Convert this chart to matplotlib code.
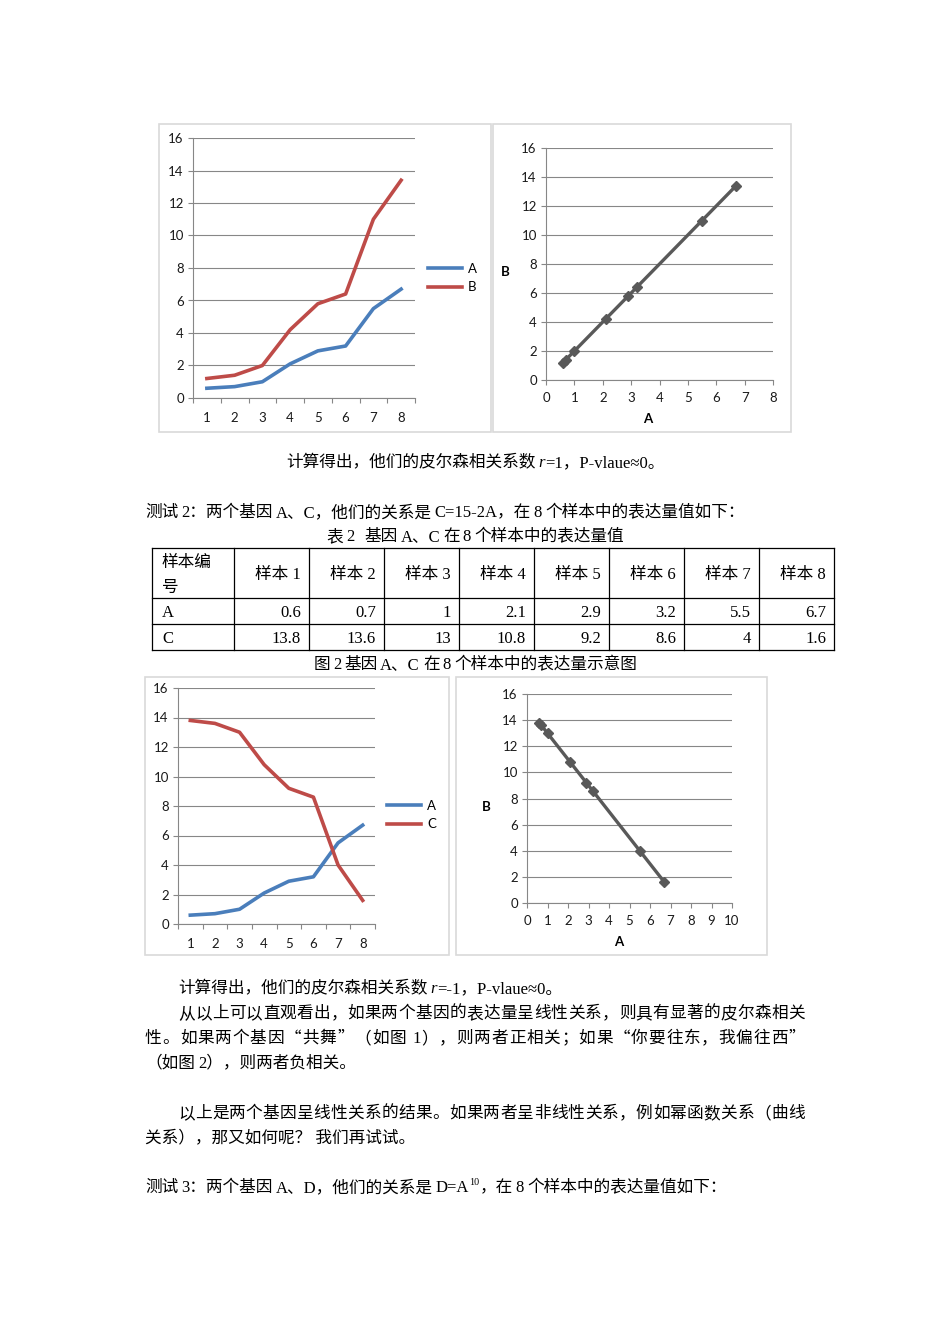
import matplotlib as mpl
mpl.use('Agg')
import matplotlib.pyplot as plt
from matplotlib.patches import Rectangle

W, H = 950, 1344

# data
samples = [1, 2, 3, 4, 5, 6, 7, 8]
geneA = [0.6, 0.7, 1, 2.1, 2.9, 3.2, 5.5, 6.7]
geneB = [1.2, 1.4, 2, 4.2, 5.8, 6.4, 11, 13.4]
geneC = [13.8, 13.6, 13, 10.8, 9.2, 8.6, 4, 1.6]
headers = ['样本编\n号', '样本 1', '样本 2', '样本 3', '样本 4',
           '样本 5', '样本 6', '样本 7', '样本 8']
yticks = [0, 2, 4, 6, 8, 10, 12, 14, 16]

BLUE = '#4A7EBB'
RED = '#BE4B48'
DARK = '#595959'
GRID = '#878787'
BORDER = '#D9D9D9'
BODY = ['Liberation Serif', 'Noto Sans CJK SC', 'DejaVu Serif']
CJK = ['Noto Sans CJK SC', 'DejaVu Sans']
CHART = ['Lato', 'DejaVu Sans']
FS = 12

fig = plt.figure(figsize=(W / 100, H / 100), dpi=100)
page = fig.add_axes([0, 0, 1, 1])
page.set_xlim(0, W)
page.set_ylim(H, 0)
page.axis('off')
renderer = fig.canvas.get_renderer()


def axes_px(x0, y0, x1, y1):
    return fig.add_axes([x0 / W, 1 - y1 / H, (x1 - x0) / W, (y1 - y0) / H])


def box(x0, y0, x1, y1):
    page.add_patch(Rectangle((x0, y0), x1 - x0, y1 - y0, fill=False,
                             edgecolor=BORDER, lw=1.2))


def style_axes(ax):
    ax.patch.set_alpha(0)
    ax.set_ylim(0, 16)
    ax.set_yticks(yticks)
    ax.yaxis.grid(True, color=GRID, lw=0.8)
    ax.set_axisbelow(True)
    for s in ['top', 'right']:
        ax.spines[s].set_visible(False)
    for s in ['left', 'bottom']:
        ax.spines[s].set_color(GRID)
        ax.spines[s].set_linewidth(0.8)
    ax.tick_params(axis='y', length=3.6, width=0.8, color=GRID, pad=3,
                   labelsize=9.5, labelcolor='#1a1a1a')
    for lab in ax.get_xticklabels() + ax.get_yticklabels():
        lab.set_family(CHART)


def line_chart(plot, series, names, colors, legxy):
    ax = axes_px(*plot)
    for ys, name, c in zip(series, names, colors):
        ax.plot(samples, ys, color=c, lw=2.6, label=name)
    ax.set_xlim(0.5, 8.5)
    ax.set_xticks(samples)
    ax.set_xticks([s - 0.5 for s in samples] + [8.5], minor=True)
    ax.tick_params(axis='x', which='major', length=0, pad=10,
                   labelsize=9.5, labelcolor='#1a1a1a')
    ax.tick_params(axis='x', which='minor', length=3.6, width=0.8, color=GRID)
    style_axes(ax)
    ax.legend(loc='center left', bbox_to_anchor=(legxy[0] / W, 1 - legxy[1] / H),
              bbox_transform=fig.transFigure, frameon=False, borderpad=0,
              borderaxespad=0, handlelength=2.6, handletextpad=0.45,
              labelspacing=0.5, prop={'family': CHART, 'size': 9.5})
    return ax


def scatter_chart(plot, xs, ys, xmax, blab, alab):
    ax = axes_px(*plot)
    ax.plot(xs, ys, color=DARK, lw=2.4, marker='D', ms=5)
    ax.set_xlim(0, xmax)
    ax.set_xticks(range(0, xmax + 1))
    ax.tick_params(axis='x', length=3.6, width=0.8, color=GRID, pad=5,
                   labelsize=9.5, labelcolor='#1a1a1a')
    style_axes(ax)
    page.text(blab[0], blab[1], 'B', family=CHART, fontweight='bold',
              fontsize=9.5, ha='center', va='center')
    page.text(alab[0], alab[1], 'A', family=CHART, fontweight='bold',
              fontsize=9.5, ha='center', va='center')
    return ax


def rich(x, y, parts, ha='left'):
    # parts: strings (normal), ('i', s) italic, ('sup', s) superscript,
    # numbers = gap px
    arts = []
    for p in parts:
        if isinstance(p, (int, float)):
            x += p
            continue
        if isinstance(p, tuple):
            kind, s = p
        else:
            kind, s = 'n', p
        kw = dict(fontsize=FS, family=BODY, va='baseline', ha='left')
        yy = y
        if kind == 'i':
            kw['style'] = 'italic'
        elif kind == 'sup':
            kw['fontsize'] = FS * 0.6
            yy = y - 7
        t = page.text(x, yy, s, **kw)
        x += t.get_window_extent(renderer).width
        arts.append(t)
    if ha == 'center':
        shift = (x - arts[0].get_position()[0]) / 2
        for t in arts:
            px, py = t.get_position()
            t.set_position((px - shift, py))
    return arts


def justified(x0, x1, y, s):
    # one character per text object, spread to fill x0..x1
    arts, widths = [], []
    for ch in s:
        if ch == ' ':
            arts.append(None)
            widths.append(4)
            continue
        fam = CJK if ch in '“”' else BODY
        t = page.text(x0, y, ch, fontsize=FS, family=fam, va='baseline')
        arts.append(t)
        widths.append(t.get_window_extent(renderer).width)
    gap = (x1 - x0 - sum(widths)) / max(len(s) - 1, 1)
    x = x0
    for t, w in zip(arts, widths):
        if t is not None:
            t.set_x(x)
        x += w + gap


def line(x, y, s, ha='left'):
    page.text(x, y, s, fontsize=FS, family=BODY, va='baseline', ha=ha)


# figure 1
box(159, 124, 491, 432)
box(493, 124, 791, 432)
line_chart((193, 138, 415, 398), [geneA, geneB], ['A', 'B'], [BLUE, RED], (428, 278))
scatter_chart((546, 148, 773, 380), geneA, geneB, 8, (505, 272), (648, 419))

rich(475, 467, ['计算得出，他们的皮尔森相关系数', 3, ('i', 'r'), '=1，P-vlaue≈0。'], ha='center')
rich(145, 517, ['测试', 3, '2：两个基因', 3, 'A、C，他们的关系是', 3, 'C=15-2A，在', 3,
                '8', 3, '个样本中的表达量值如下：'])
rich(475, 541, ['表', 3, '2', 10, '基因', 3, 'A、C', 3, '在', 3, '8', 3,
                '个样本中的表达量值'], ha='center')

# table 2
cols = [152, 234, 309, 384, 459, 534, 609, 684, 759, 834]
rows = [548, 598, 624, 650]
for xc in cols:
    page.plot([xc, xc], [rows[0], rows[-1]], color='black', lw=0.9)
for yr in rows:
    page.plot([cols[0], cols[-1]], [yr, yr], color='black', lw=0.9)
page.text(cols[0] + 10, 567, headers[0].split('\n')[0], fontsize=FS, family=BODY, va='baseline')
page.text(cols[0] + 10, 592, headers[0].split('\n')[1], fontsize=FS, family=BODY, va='baseline')
for i, h in enumerate(headers[1:]):
    page.text(cols[i + 2] - 8, 579, h, fontsize=FS, family=BODY, va='baseline', ha='right')
for r, (name, vals) in enumerate([('A', geneA), ('C', geneC)]):
    yb = rows[r + 1] + 19
    page.text(cols[0] + 10, yb, name, fontsize=FS, family=BODY, va='baseline')
    for i, v in enumerate(vals):
        page.text(cols[i + 2] - 8, yb, '%g' % v, fontsize=FS, family=BODY,
                  va='baseline', ha='right')

rich(475, 669, ['图', 3, '2', 3, '基因', 3, 'A、C', 3, '在', 3, '8', 3,
                '个样本中的表达量示意图'], ha='center')

# figure 2
box(145, 677, 449, 955)
box(456, 677, 767, 955)
line_chart((178, 688, 375, 924), [geneA, geneC], ['A', 'C'], [BLUE, RED], (387, 815))
scatter_chart((527, 694, 732, 903), geneA, geneC, 10, (486, 807), (619, 942))

rich(178, 993, ['计算得出，他们的皮尔森相关系数', 3, ('i', 'r'), '=-1，P-vlaue≈0。'])
justified(178, 805, 1018, '从以上可以直观看出，如果两个基因的表达量呈线性关系，则具有显著的皮尔森相关')
justified(145, 805, 1043, '性。如果两个基因“共舞”（如图 1），则两者正相关；如果“你要往东，我偏往西”')
rich(145, 1067, ['（如图', 3, '2），则两者负相关。'])
justified(178, 805, 1118, '以上是两个基因呈线性关系的结果。如果两者呈非线性关系，例如幂函数关系（曲线')
line(145, 1142, '关系），那又如何呢？ 我们再试试。')
rich(145, 1192, ['测试', 3, '3：两个基因', 3, 'A、D，他们的关系是', 3, 'D=A', 0.5, ('sup', '10'),
                 '，在', 3, '8', 3, '个样本中的表达量值如下：'])

plt.savefig('out.png', dpi=100)
